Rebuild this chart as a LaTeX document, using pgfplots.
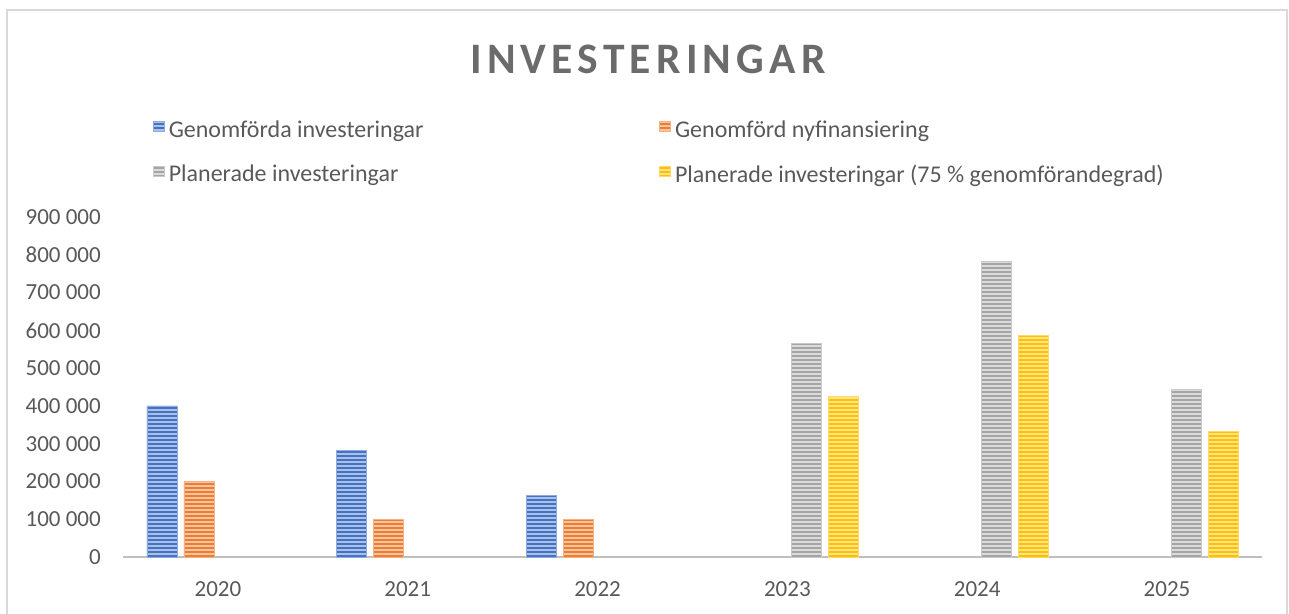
\documentclass[border=0pt]{standalone}
\usepackage{fontspec}
\setmainfont{Carlito}
\newfontfamily\titlefont[LetterSpace=12]{Carlito}
\usepackage{pgfplots}
\pgfplotsset{compat=1.18}
\usetikzlibrary{patterns.meta}
\definecolor{cblue}{HTML}{4472C4}
\definecolor{corange}{HTML}{ED7D31}
\definecolor{cgray}{HTML}{A5A5A5}
\definecolor{cyellow}{HTML}{FFC000}
\definecolor{labelgray}{HTML}{595959}
\definecolor{titlegray}{HTML}{6B6B6B}
\definecolor{axisgray}{HTML}{BFBFBF}
\definecolor{framegray}{HTML}{D9D9D9}
\begin{document}
\begin{tikzpicture}
\path[use as bounding box] (0,0) rectangle (1289bp,614bp);
\draw[color=framegray, line width=1.5bp] (7bp,-2bp) -- (7bp,604bp) -- (1287bp,604bp) -- (1287bp,-2bp);
\node[font=\titlefont\bfseries\fontsize{43.5bp}{50bp}\selectfont, text=titlegray] at (648bp,555bp) {INVESTERINGAR};
\begin{axis}[
  at={(123bp,57bp)}, anchor=south west,
  scale only axis, width=1139bp, height=340bp,
  xmin=-0.5, xmax=5.5, ymin=0, ymax=900000,
  xtick={0,1,2,3,4,5}, xticklabels={2020,2021,2022,2023,2024,2025},
  ytick={0,100000,200000,300000,400000,500000,600000,700000,800000,900000},
  scaled y ticks=false,
  /pgf/number format/.cd, fixed, 1000 sep={\ }, assume math mode=true,
  /pgfplots/.cd,
  major tick length=0pt,
  axis x line*=bottom, axis y line*=left,
  y axis line style={draw=none},
  x axis line style={-, draw=axisgray, line width=2.5bp},
  tick label style={font=\fontsize{23bp}{27bp}\selectfont, text=labelgray, inner sep=0pt},
  yticklabel style={anchor=east, xshift=-22bp},
  xticklabel style={anchor=north, yshift=-24bp},
  ybar, bar width=30bp,
  clip=false,
  legend columns=2,
  legend style={draw=none, fill=none, at={(rel axis cs:0.0263,1.191)}, anchor=west,
    font=\fontsize{24bp}{28bp}\selectfont, text=labelgray, inner sep=0pt,
    /tikz/every even column/.append style={column sep=234bp},
    row sep=22bp},
  legend cell align=left,
  legend image code/.code={\fill[#1, draw=none] (0bp,-2bp) rectangle (11bp,8bp); \path (13bp,0bp);},
]
\addplot[fill=cblue, draw=cblue!60!white, line width=0.6bp, bar shift=-56bp,
  postaction={pattern={Lines[angle=0,distance=4bp,line width=1.2bp]}, pattern color=cblue!45!white}]
  coordinates {(0,400000) (1,283000) (2,163000)};
\addplot[fill=corange, draw=corange!60!white, line width=0.6bp, bar shift=-19bp,
  postaction={pattern={Lines[angle=0,distance=4bp,line width=1.2bp]}, pattern color=corange!45!white}]
  coordinates {(0,200000) (1,100000) (2,100000)};
\addplot[fill=cgray, draw=cgray!60!white, line width=0.6bp, bar shift=19bp,
  postaction={pattern={Lines[angle=0,distance=4bp,line width=1.2bp]}, pattern color=cgray!40!white}]
  coordinates {(3,566000) (4,783000) (5,444000)};
\addplot[fill=cyellow, draw=cyellow!60!white, line width=0.6bp, bar shift=56bp,
  postaction={pattern={Lines[angle=0,distance=4bp,line width=1.2bp]}, pattern color=cyellow!45!white}]
  coordinates {(3,424500) (4,587250) (5,333000)};
\legend{Genomförda investeringar, Genomförd nyfinansiering, Planerade investeringar, Planerade investeringar (75 \% genomförandegrad)}
\end{axis}
\end{tikzpicture}
\end{document}
